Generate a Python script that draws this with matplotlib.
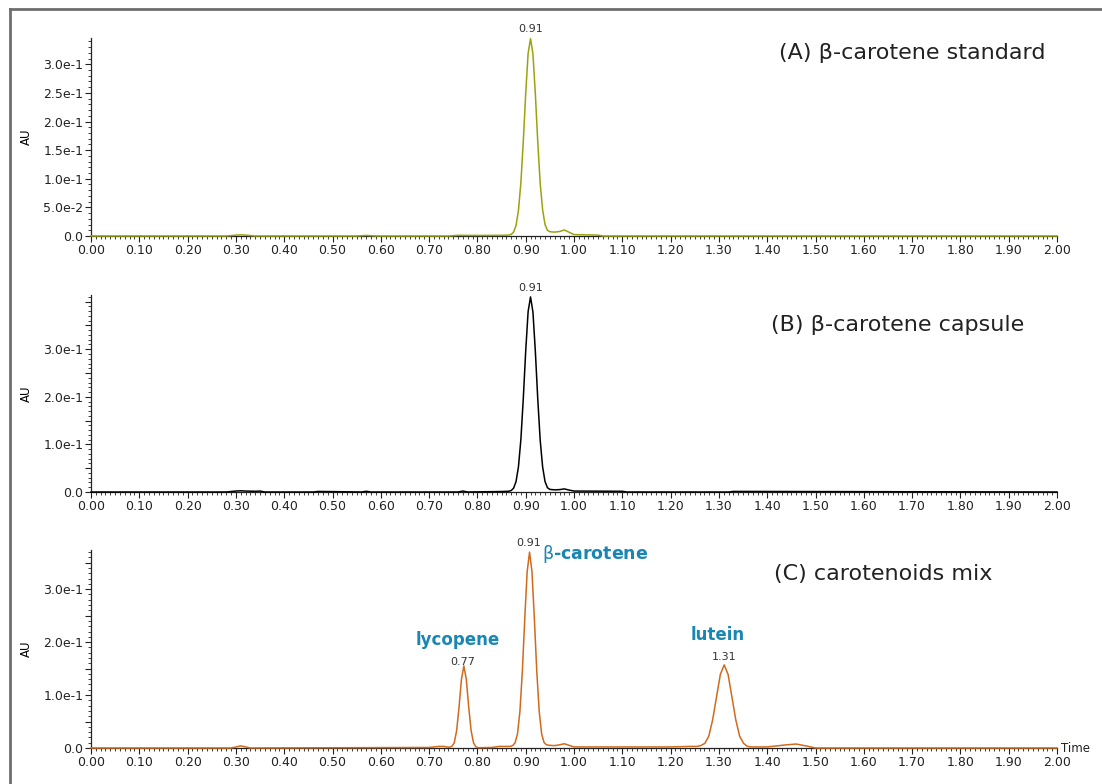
import re

import matplotlib
matplotlib.use("Agg")
import matplotlib.pyplot as plt
import numpy as np
from matplotlib.lines import Line2D
from matplotlib.ticker import MultipleLocator, FuncFormatter

# ---- traces (time in min, AU) ----
time_a = [0.00, 0.28, 0.30, 0.31, 0.32, 0.34, 0.55, 0.57, 0.59, 0.74, 0.76, 0.80,
          0.85, 0.865, 0.87, 0.875, 0.88, 0.885, 0.89, 0.895, 0.90, 0.905, 0.91,
          0.915, 0.92, 0.925, 0.93, 0.935, 0.94, 0.945, 0.95, 0.96, 0.97, 0.98,
          0.99, 1.00, 1.05, 1.06, 2.00]
au_a = [0, 0, 0.0015, 0.002, 0.0015, 0, 0, 0.001, 0, 0, 0.0012, 0.001,
        0.0012, 0.0016, 0.0027, 0.007, 0.0186, 0.0447, 0.093, 0.165, 0.249, 0.319, 0.345,
        0.318, 0.248, 0.164, 0.092, 0.046, 0.020, 0.010, 0.0075, 0.0068, 0.0078, 0.0105,
        0.0065, 0.0025, 0.0015, 0, 0]

time_b = [0.00, 0.28, 0.30, 0.31, 0.32, 0.34, 0.35, 0.36, 0.46, 0.47, 0.56, 0.57,
          0.58, 0.76, 0.77, 0.78, 0.85, 0.865, 0.87, 0.875, 0.88, 0.885, 0.89, 0.895,
          0.90, 0.905, 0.91, 0.915, 0.92, 0.925, 0.93, 0.935, 0.94, 0.945, 0.95, 0.96,
          0.97, 0.98, 0.99, 1.00, 1.10, 1.11, 1.32, 1.33, 2.00]
au_b = [0, 0, 0.002, 0.0025, 0.002, 0.0015, 0.002, 0, 0, 0.0012, 0, 0.0015,
        0, 0, 0.002, 0, 0.001, 0.0016, 0.0031, 0.0082, 0.022, 0.053, 0.110, 0.196,
        0.296, 0.379, 0.41, 0.378, 0.295, 0.195, 0.109, 0.053, 0.022, 0.009, 0.0055, 0.0045,
        0.005, 0.0065, 0.004, 0.002, 0.0015, 0, 0, 0.0012, 0]

time_c = [0.00, 0.29, 0.31, 0.33, 0.70, 0.72, 0.73, 0.742, 0.747, 0.752, 0.757, 0.762,
          0.767, 0.772, 0.777, 0.782, 0.787, 0.792, 0.797, 0.802, 0.83, 0.845, 0.86,
          0.868, 0.873, 0.878, 0.883, 0.888, 0.893, 0.898, 0.903, 0.908, 0.913, 0.918,
          0.923, 0.928, 0.933, 0.938, 0.943, 0.95, 0.96, 0.97, 0.98, 0.99, 1.00, 1.10,
          1.20, 1.24, 1.255, 1.263, 1.271, 1.279, 1.287, 1.295, 1.303, 1.311, 1.319,
          1.327, 1.335, 1.343, 1.351, 1.359, 1.367, 1.40, 1.44, 1.46, 1.48, 1.50, 2.00]
au_c = [0, 0, 0.004, 0, 0.001, 0.003, 0.003, 0.0013, 0.003, 0.0097, 0.0327, 0.0775,
        0.130, 0.155, 0.130, 0.0775, 0.0327, 0.0097, 0.002, 0.0005, 0.001, 0.003, 0.003,
        0.003, 0.0045, 0.0098, 0.0266, 0.0688, 0.1436, 0.243, 0.333, 0.370, 0.333, 0.243,
        0.1436, 0.0688, 0.0266, 0.0104, 0.006, 0.005, 0.0045, 0.006, 0.008, 0.005, 0.002, 0.002,
        0.002, 0.003, 0.003, 0.0047, 0.0089, 0.0222, 0.053, 0.0962, 0.139, 0.157, 0.139,
        0.0962, 0.053, 0.0222, 0.0089, 0.003, 0.002, 0.002, 0.006, 0.0075, 0.004, 0, 0]

peaks_a = [0.91]
peaks_b = [0.91]
peaks_c = [0.77, 0.91, 1.31]
names_c = ["lycopene", r"$\mathrm{\beta}$-carotene", "lutein"]

titles = ["(A) β-carotene standard", "(B) β-carotene capsule", "(C) carotenoids mix"]

C_A = "#9aa30c"
C_B = "#000000"
C_C = "#d06a1c"
C_NAME = "#1a86b3"


def make_fmt(step):
    # label every `step` up to 0.3; the other 0.05 ticks stay blank
    def fmt(v, pos):
        if abs(v) < 1e-12:
            return "0.0"
        if v > 0.30001 or abs(v / step - round(v / step)) > 1e-6:
            return ""
        s = f"{v:.1e}"
        return re.sub(r"e([+-])0*(\d)",
                      lambda m: "e" + ("-" if m.group(1) == "-" else "") + m.group(2), s)
    return fmt


fig = plt.figure(figsize=(11.02, 7.84), dpi=100)

# grey frame (left and top edges)
fig.add_artist(Line2D([10 / 1102, 10 / 1102], [0, 1 - 9 / 784], transform=fig.transFigure,
                      color="#6e6e6e", lw=2))
fig.add_artist(Line2D([10 / 1102, 1], [1 - 9 / 784, 1 - 9 / 784], transform=fig.transFigure,
                      color="#6e6e6e", lw=2))

left, width = 91 / 1102, 966 / 1102
ax_a = fig.add_axes([left, 1 - 236 / 784, width, 198 / 784])
ax_b = fig.add_axes([left, 1 - 492 / 784, width, 197 / 784])
ax_c = fig.add_axes([left, 1 - 748 / 784, width, 198 / 784])

panels = [
    (ax_a, time_a, au_a, C_A, peaks_a, 0.346, 0.05, (0.988, 0.924)),
    (ax_b, time_b, au_b, C_B, peaks_b, 0.414, 0.1, (0.966, 0.848)),
    (ax_c, time_c, au_c, C_C, peaks_c, 0.374, 0.1, (0.933, 0.878)),
]

for (ax, t, y, col, peaks, ytop, ystep, tpos), title in zip(panels, titles):
    ax.plot(t, y, color=col, lw=1.1, clip_on=False, zorder=3)
    ax.set_xlim(0, 2.0)
    ax.set_ylim(0, ytop)
    for side in ("top", "right"):
        ax.spines[side].set_visible(False)
    for side in ("left", "bottom"):
        ax.spines[side].set_color("#222")
        ax.spines[side].set_linewidth(0.9)
    ax.xaxis.set_major_locator(MultipleLocator(0.1))
    ax.xaxis.set_minor_locator(MultipleLocator(0.01))
    ax.xaxis.set_major_formatter(FuncFormatter(lambda v, p: f"{v:.2f}"))
    ax.yaxis.set_major_locator(MultipleLocator(0.05))
    ax.yaxis.set_minor_locator(MultipleLocator(0.01))
    ax.yaxis.set_major_formatter(FuncFormatter(make_fmt(ystep)))
    ax.tick_params(which="major", direction="out", length=4, width=0.8,
                   labelsize=9, pad=1.5, colors="#222")
    ax.tick_params(which="minor", direction="out", length=2.5, width=0.6, colors="#222")
    ax.set_ylabel("AU", fontsize=8.5)
    ax.yaxis.set_label_coords(-0.06, 0.5)
    ax.text(tpos[0], tpos[1], title, transform=ax.transAxes, ha="right", va="center",
            fontsize=16, color="#222")
    for rt in peaks:
        if ax is ax_c and abs(rt - 0.91) < 0.01:
            continue
        h = np.interp(rt, t, y)
        ax.annotate(f"{rt:.2f}", (rt, h), xytext=(0, 3), textcoords="offset points",
                    ha="center", va="bottom", fontsize=8, color="#333")

# panel C: peak names and the 0.91 label beside beta-carotene
h91 = np.interp(0.908, time_c, au_c)
ax_c.annotate("0.91", (0.908, h91), xytext=(-1, 3), textcoords="offset points",
              ha="center", va="bottom", fontsize=8, color="#333")
for rt, name in zip(peaks_c, names_c):
    h = np.interp(rt, time_c, au_c)
    if name.startswith("$"):
        ax_c.annotate(name, (rt, h), xytext=(8, 4), textcoords="offset points",
                      ha="left", va="center", fontsize=12.5, fontweight="bold", color=C_NAME)
    else:
        ax_c.annotate(name, (rt, h), xytext=(-4, 16), textcoords="offset points",
                      ha="center", va="bottom", fontsize=12, fontweight="bold", color=C_NAME)

ax_c.text(1.004, 0.0, "Time", transform=ax_c.transAxes, ha="left", va="center",
          fontsize=8.5, color="#222")

fig.savefig("out.png", dpi=100, facecolor="white")
